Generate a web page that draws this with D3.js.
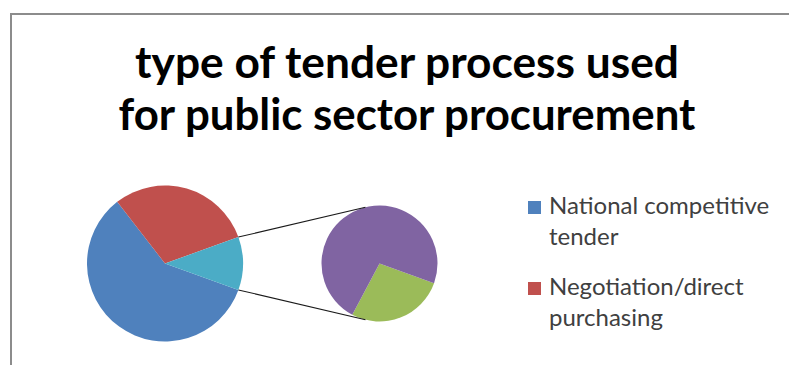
<!DOCTYPE html>
<html>
<head>
<meta charset="utf-8">
<script src="https://cdn.jsdelivr.net/npm/d3@7"></script>
<style>
  html, body { margin: 0; padding: 0; background: #fff; }
  svg { display: block; }
</style>
</head>
<body>
<svg id="chart" width="789" height="365"></svg>
<script>
// Chart content
const titleLines = ["type of tender process used", "for public sector procurement"];

// Primary pie: named categories plus the combined slice broken out on the right
const mainCategories = ["National competitive tender", "Negotiation/direct purchasing"];
const mainValues = [59, 30];
const mainColors = ["#4F81BD", "#C0504D"];
const otherColor = "#4BACC6";

// Secondary pie: the points that make up the combined slice
const secondaryValues = [3, 8];
const secondaryColors = ["#9BBB59", "#8064A2"];

const svg = d3.select("#chart");

// Chart area frame
svg.append("rect")
  .attr("x", 11).attr("y", 14)
  .attr("width", 900).attr("height", 500)
  .attr("fill", "#fff")
  .attr("stroke", "#8c8c8c")
  .attr("stroke-width", 2);

// Title
const titleFont = "Lato, 'Open Sans', sans-serif";
const titleTargets = [544, 577];
const titleBaselines = [78, 130];
titleLines.forEach((line, i) => {
  const t = svg.append("text")
    .attr("x", 407)
    .attr("y", titleBaselines[i])
    .attr("text-anchor", "middle")
    .attr("font-family", titleFont)
    .attr("font-weight", "bold")
    .attr("font-size", 37)
    .attr("fill", "#000")
    .text(line);
  const w = t.node().getComputedTextLength();
  t.attr("font-size", 37 * titleTargets[i] / w);
});

// Pie geometry
const mainCenter = [165, 263.5], mainR = 78;
const secCenter = [379.5, 263.5], secR = 58;

const total = d3.sum(mainValues) + d3.sum(secondaryValues);
const otherValue = d3.sum(secondaryValues);
const otherAngle = otherValue / total * 2 * Math.PI;
// Rotate so the combined slice is centred on the right-hand side
const startAngle = Math.PI / 2 + otherAngle / 2;

const mainData = mainValues.map((v, i) => ({ value: v, color: mainColors[i] }))
  .concat([{ value: otherValue, color: otherColor }]);

const mainPie = d3.pie().sort(null).value(d => d.value)
  .startAngle(startAngle).endAngle(startAngle + 2 * Math.PI);
const mainArc = d3.arc().innerRadius(0).outerRadius(mainR);

const gMain = svg.append("g").attr("transform", `translate(${mainCenter})`);
const mainArcs = mainPie(mainData);
gMain.selectAll("path").data(mainArcs).join("path")
  .attr("d", mainArc)
  .attr("fill", d => d.data.color);

const secData = secondaryValues.map((v, i) => ({ value: v, color: secondaryColors[i] }));
const secPie = d3.pie().sort(null).value(d => d.value)
  .startAngle(startAngle).endAngle(startAngle + 2 * Math.PI);
const secArc = d3.arc().innerRadius(0).outerRadius(secR);

const gSec = svg.append("g").attr("transform", `translate(${secCenter})`);
gSec.selectAll("path").data(secPie(secData)).join("path")
  .attr("d", secArc)
  .attr("fill", d => d.data.color);

// Connector lines from the combined slice to the secondary pie
const otherSlice = mainArcs[mainArcs.length - 1];
const polar = (c, r, a) => [c[0] + r * Math.sin(a), c[1] - r * Math.cos(a)];
const connAngle = 14 * Math.PI / 180;
const connectors = [
  [polar(mainCenter, mainR, otherSlice.startAngle), polar(secCenter, secR, -connAngle)],
  [polar(mainCenter, mainR, otherSlice.endAngle), polar(secCenter, secR, Math.PI + connAngle)]
];
svg.selectAll("line.connector").data(connectors).join("line")
  .attr("class", "connector")
  .attr("x1", d => d[0][0]).attr("y1", d => d[0][1])
  .attr("x2", d => d[1][0]).attr("y2", d => d[1][1])
  .attr("stroke", "#1a1a1a")
  .attr("stroke-width", 1.1);

// Legend
const legendFont = "Lato, 'Open Sans', sans-serif";
const legendWrap = [["National competitive", "tender"], ["Negotiation/direct", "purchasing"]];
const legendTop = [201, 282];
const legend = svg.append("g");
mainCategories.forEach((name, i) => {
  legend.append("rect")
    .attr("x", 528).attr("y", legendTop[i])
    .attr("width", 13).attr("height", 13)
    .attr("fill", mainColors[i]);
  const t = legend.append("text")
    .attr("font-family", legendFont)
    .attr("font-size", 24)
    .attr("fill", "#404040");
  legendWrap[i].forEach((part, j) => {
    t.append("tspan")
      .attr("x", 549)
      .attr("y", legendTop[i] + 13 + j * 30.5)
      .text(part);
  });
});
</script>
</body>
</html>
